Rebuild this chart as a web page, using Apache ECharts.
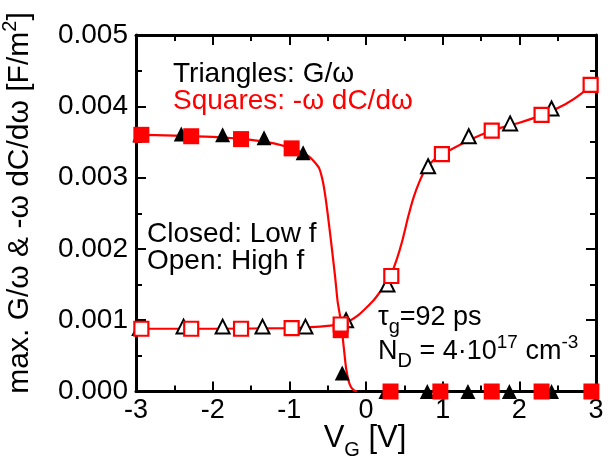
<!DOCTYPE html>
<html>
<head>
<meta charset="utf-8">
<script src="https://cdn.jsdelivr.net/npm/echarts@6/dist/echarts.min.js"></script>
<style>
  html, body { margin: 0; padding: 0; background: #fff; }
  #chart { width: 613px; height: 460px; }
</style>
</head>
<body>
<div id="chart"></div>
<script>
// closed symbols = low f, open symbols = high f
var triX      = [-2.95, -2.41, -1.87, -1.33, -0.82, -0.31, 0.26, 0.80, 1.33, 1.87, 2.42];
var triClosed = [0.00360, 0.00361, 0.00360, 0.00356, 0.00335, 0.00026, 0, 0, 0, 0, 0];
var triOpenX  = [-2.95, -2.38, -1.87, -1.35, -0.79, -0.26, 0.28, 0.81, 1.34, 1.88, 2.42];
var triOpen   = [0.00089, 0.00091, 0.00091, 0.00091, 0.00091, 0.00100, 0.00150, 0.00316, 0.00358, 0.00376, 0.00397];

var sqClosedX = [-2.93, -2.28, -1.63, -0.97, -0.33, 0.32, 0.97, 1.64, 2.29, 2.94];
var sqClosed  = [0.00360, 0.00358, 0.00354, 0.00341, 0.00086, 0, 0, 0, 0, 0];
var sqOpenX   = [-2.93, -2.28, -1.63, -0.97, -0.33, 0.33, 0.99, 1.64, 2.29, 2.93];
var sqOpen    = [0.00088, 0.00088, 0.00088, 0.00089, 0.00094, 0.00162, 0.00333, 0.00366, 0.00388, 0.00430];

// fitted curves
var fitLowX  = [-3.0, -2.5, -2.0, -1.5, -1.2, -1.0, -0.85, -0.75, -0.68, -0.61, -0.56, -0.52, -0.48, -0.44, -0.40, -0.37, -0.34, -0.32, -0.30, -0.28, -0.26, -0.23, -0.20, -0.16, -0.12];
var fitLowY  = [0.00360, 0.00359, 0.00357, 0.00353, 0.00348, 0.00342, 0.00336, 0.00330, 0.00323, 0.00313, 0.00293, 0.00266, 0.00232, 0.00196, 0.00158, 0.00126, 0.00107, 0.00094, 0.00072, 0.00052, 0.00033, 0.00016, 0.00007, 0.00002, 0.0];
var fitHighX = [-3.0, -2.0, -1.0, -0.6, -0.4, -0.3, -0.2, -0.1, 0.0, 0.1, 0.2, 0.3, 0.4, 0.47, 0.55, 0.62, 0.70, 0.78, 0.90, 1.0, 1.3, 1.64, 2.0, 2.3, 2.6, 2.8, 3.0];
var fitHighY = [0.00088, 0.00088, 0.00089, 0.00091, 0.00093, 0.00095, 0.00100, 0.00107, 0.00117, 0.00128, 0.00142, 0.00157, 0.00185, 0.00210, 0.00245, 0.00272, 0.00295, 0.00313, 0.00326, 0.00333, 0.00350, 0.00366, 0.00377, 0.00388, 0.00403, 0.00417, 0.00437];

var yTicks = ['0.000', '0.001', '0.002', '0.003', '0.004', '0.005'];

function pairs(xs, ys) {
    return xs.map(function (x, i) { return [x, ys[i]]; });
}

var FONT = 'Liberation Sans, Arial, sans-serif';
var RED = '#ff0000';

var myChart = echarts.init(document.getElementById('chart'), null, { renderer: 'canvas' });

function axisX(pos, showLabel) {
    return {
        type: 'value', position: pos, min: -3, max: 3, interval: 1,
        axisLine: { show: true, onZero: false, lineStyle: { color: '#000', width: 3 } },
        axisTick: { show: true, inside: true, length: 10, lineStyle: { color: '#000', width: 2 } },
        minorTick: { show: true, splitNumber: 2, length: 6, lineStyle: { color: '#000', width: 2 } },
        splitLine: { show: false },
        axisLabel: { show: showLabel, color: '#000', fontFamily: FONT, fontSize: 27, margin: 6 }
    };
}
function axisY(pos, showLabel) {
    return {
        type: 'value', position: pos, min: 0, max: 0.005, interval: 0.001,
        axisLine: { show: true, onZero: false, lineStyle: { color: '#000', width: 3 } },
        axisTick: { show: true, inside: true, length: 10, lineStyle: { color: '#000', width: 2 } },
        minorTick: { show: true, splitNumber: 2, length: 6, lineStyle: { color: '#000', width: 2 } },
        splitLine: { show: false },
        axisLabel: {
            show: showLabel, color: '#000', fontFamily: FONT, fontSize: 28, margin: 8,
            formatter: function (v) { return yTicks[Math.round(v / 0.001)]; }
        }
    };
}

function marks(data, symbol, size, style, z) {
    style.opacity = 1;
    return {
        type: 'scatter', data: data, symbol: symbol, symbolSize: size,
        itemStyle: style, emphasis: { disabled: true }, z: z
    };
}

var option = {
    backgroundColor: '#fff',
    animation: false,
    grid: { left: 136, right: 17, top: 35, bottom: 68.5 },
    xAxis: [axisX('bottom', true), axisX('top', false)],
    yAxis: [axisY('left', true), axisY('right', false)],
    series: [
        {
            type: 'line', data: pairs(fitLowX, fitLowY), showSymbol: false, smooth: 0.2,
            lineStyle: { color: RED, width: 2.2 }, z: 2
        },
        {
            type: 'line', data: pairs(fitHighX, fitHighY), showSymbol: false, smooth: 0.2,
            lineStyle: { color: RED, width: 2.2 }, z: 2
        },
        marks(pairs(triX, triClosed), 'triangle', 15, { color: '#000' }, 3),
        marks(pairs(triOpenX, triOpen), 'triangle', 14, { color: '#fff', borderColor: '#000', borderWidth: 2 }, 3),
        marks(pairs(sqClosedX, sqClosed), 'rect', 16, { color: RED }, 4),
        marks(pairs(sqOpenX, sqOpen), 'rect', 14, { color: '#fff', borderColor: RED, borderWidth: 2.2 }, 5)
    ],
    graphic: [
        {
            type: 'text', x: 20, y: 203, rotation: Math.PI / 2,
            style: {
                text: '{a|max. G/ω & -ω dC/dω [F/m}{s|2}{a|]}',
                align: 'center', verticalAlign: 'middle', fill: '#000',
                rich: {
                    a: { fontFamily: FONT, fontSize: 30, lineHeight: 40, verticalAlign: 'middle' },
                    s: { fontFamily: FONT, fontSize: 20, lineHeight: 20, verticalAlign: 'top' }
                }
            }
        },
        {
            type: 'text', x: 365, y: 438,
            style: {
                text: '{a|V}{s|G}{a| [V]}',
                align: 'center', verticalAlign: 'middle', fill: '#000',
                rich: {
                    a: { fontFamily: FONT, fontSize: 31, lineHeight: 44, verticalAlign: 'middle' },
                    s: { fontFamily: FONT, fontSize: 20, lineHeight: 20, verticalAlign: 'bottom' }
                }
            }
        },
        {
            type: 'text', x: 173, y: 74,
            style: { text: 'Triangles: G/ω', font: '28px ' + FONT, fill: '#000', verticalAlign: 'middle' }
        },
        {
            type: 'text', x: 173, y: 101,
            style: { text: 'Squares: -ω dC/dω', font: '28px ' + FONT, fill: RED, verticalAlign: 'middle' }
        },
        {
            type: 'text', x: 147, y: 234,
            style: { text: 'Closed: Low f', font: '28px ' + FONT, fill: '#000', verticalAlign: 'middle' }
        },
        {
            type: 'text', x: 147, y: 261,
            style: { text: 'Open: High f', font: '28px ' + FONT, fill: '#000', verticalAlign: 'middle' }
        },
        {
            type: 'text', x: 378, y: 318,
            style: {
                text: '{a|τ}{s|g}{a|=92 ps}',
                verticalAlign: 'middle', fill: '#000',
                rich: {
                    a: { fontFamily: FONT, fontSize: 27, lineHeight: 38, verticalAlign: 'middle' },
                    s: { fontFamily: FONT, fontSize: 20, lineHeight: 20, verticalAlign: 'bottom' }
                }
            }
        },
        {
            type: 'text', x: 378, y: 352,
            style: {
                text: '{a|N}{s|D}{a| = 4·10}{p|17}{a| cm}{p|-3}',
                verticalAlign: 'middle', fill: '#000',
                rich: {
                    a: { fontFamily: FONT, fontSize: 27, lineHeight: 38, verticalAlign: 'middle' },
                    s: { fontFamily: FONT, fontSize: 20, lineHeight: 20, verticalAlign: 'bottom' },
                    p: { fontFamily: FONT, fontSize: 19, lineHeight: 19, verticalAlign: 'top' }
                }
            }
        }
    ]
};

myChart.setOption(option);
</script>
</body>
</html>
